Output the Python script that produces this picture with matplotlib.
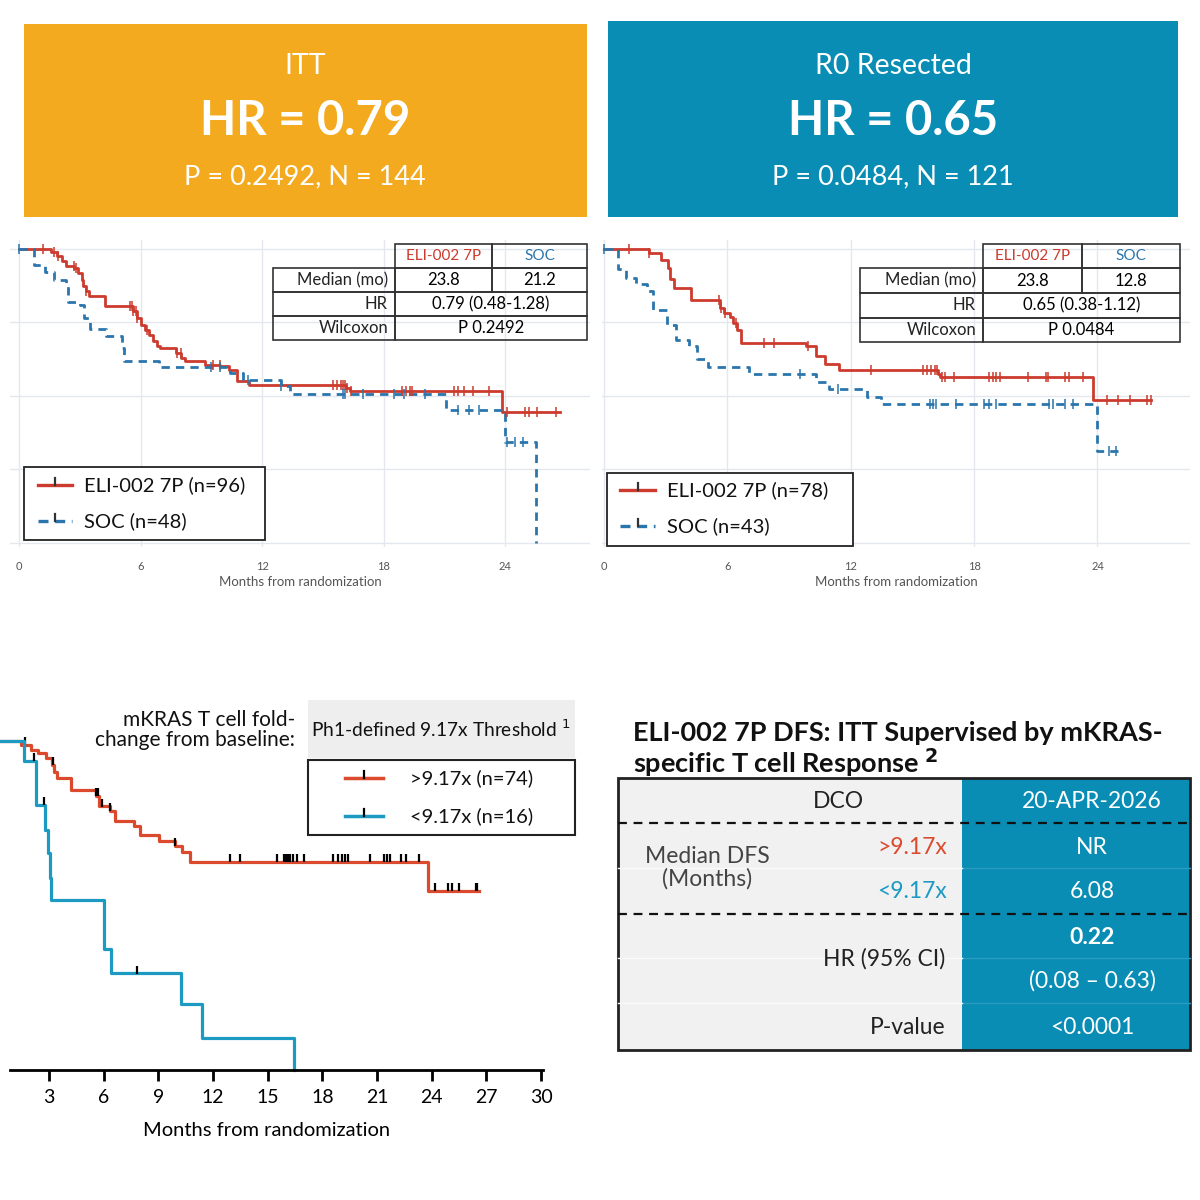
import numpy as np
import matplotlib.pyplot as plt
from matplotlib.patches import Rectangle
from matplotlib.lines import Line2D

plt.rcParams['font.family'] = ['Lato', 'DejaVu Sans']

# =========================
# DATA
# =========================
# ITT, top left
ITT_7P_T = [1.57, 1.86, 2.14, 2.33, 2.71, 2.90, 3.09, 3.18, 3.28, 3.47, 4.23, 5.65, 5.84, 6.03,
            6.22, 6.41, 6.60, 6.79, 6.98, 7.73, 8.02, 8.21, 9.16, 9.91, 10.39, 10.77, 11.34,
            16.17, 16.36, 23.85]
ITT_7P_S = [0.988, 0.974, 0.957, 0.940, 0.934, 0.917, 0.895, 0.872, 0.855, 0.838, 0.804, 0.787,
            0.764, 0.742, 0.725, 0.708, 0.685, 0.668, 0.663, 0.646, 0.629, 0.617, 0.606, 0.600,
            0.589, 0.549, 0.538, 0.527, 0.515, 0.444]
ITT_7P_END = 26.7
ITT_7P_CENS = [1.2, 1.7, 1.9, 2.7, 2.8, 3.3, 5.5, 5.6, 5.65, 5.75, 5.84, 6.3, 7.8, 8.0, 9.6, 9.9,
               15.5, 15.7, 15.9, 16.0, 16.1, 16.2, 16.4, 18.9, 19.1, 19.3, 19.4, 21.5, 21.7,
               22.0, 22.4, 23.2, 24.1, 25.0, 25.2, 25.6, 26.5]

ITT_SOC_T = [0.72, 1.3, 1.7, 2.3, 2.4, 3.0, 3.2, 3.5, 4.3, 5.1, 5.2, 6.9, 10.4, 11.05, 12.95,
             13.4, 21.1, 24.0, 25.55]
ITT_SOC_S = [0.946, 0.92, 0.895, 0.875, 0.82, 0.81, 0.764, 0.727, 0.702, 0.662, 0.617, 0.598,
             0.578, 0.553, 0.532, 0.506, 0.453, 0.342, 0.0]
ITT_SOC_END = 25.55
ITT_SOC_CENS = [0.0, 9.5, 9.9, 11.3, 12.95, 16.0, 16.1, 17.0, 18.5, 19.0, 20.05, 21.7, 22.2,
                22.7, 24.1, 24.5, 24.9]

# R0 resected, top right
R0_7P_T = [2.2, 2.76, 3.09, 3.22, 3.41, 4.25, 5.64, 5.83, 6.11, 6.29, 6.48, 6.67, 9.83, 10.3,
           10.76, 11.41, 16.26, 16.35, 23.8]
R0_7P_S = [0.986, 0.961, 0.936, 0.897, 0.866, 0.827, 0.797, 0.780, 0.769, 0.747, 0.724, 0.680,
           0.669, 0.636, 0.608, 0.586, 0.574, 0.563, 0.486]
R0_7P_END = 26.6
R0_7P_CENS = [1.2, 2.2, 5.6, 5.7, 5.9, 6.4, 7.8, 8.25, 9.9, 13.0, 15.5, 15.7, 15.9, 16.1, 16.2,
              16.45, 16.6, 17.0, 18.7, 18.9, 19.05, 19.25, 20.6, 21.5, 21.6, 22.4, 22.6, 23.3,
              24.45, 25.0, 25.6, 26.4, 26.6]

R0_SOC_T = [0.67, 1.08, 1.55, 2.1, 2.38, 3.04, 3.5, 4.15, 4.53, 5.08, 7.04, 10.3, 10.95, 12.8,
            13.46, 24.0]
R0_SOC_S = [0.93, 0.902, 0.880, 0.858, 0.791, 0.741, 0.691, 0.669, 0.624, 0.599, 0.574, 0.547,
            0.522, 0.497, 0.471, 0.313]
R0_SOC_END = 25.0
R0_SOC_CENS = [0.0, 9.55, 11.4, 15.85, 16.0, 16.15, 17.1, 18.5, 18.7, 19.05, 21.65, 21.85,
               22.4, 22.8, 24.55, 24.9]

# mKRAS T cell response, bottom left
HI_T = [1.47, 2.0, 2.42, 2.84, 3.16, 3.26, 3.43, 4.21, 5.58, 5.75, 6.32, 6.63, 7.68, 8.0, 9.05,
        9.9, 10.32, 10.74, 23.8]
HI_S = [0.987, 0.972, 0.962, 0.946, 0.926, 0.906, 0.886, 0.851, 0.831, 0.800, 0.785, 0.757,
        0.740, 0.713, 0.695, 0.680, 0.662, 0.631, 0.543]
HI_END = 26.6
HI_CENS = [1.7, 3.2, 5.58, 5.7, 5.9, 6.36, 9.9, 12.95, 13.5, 15.5, 15.9, 16.0, 16.1, 16.2, 16.4,
           16.6, 17.0, 18.6, 18.85, 19.05, 19.25, 19.4, 20.6, 21.4, 21.55, 21.7, 22.3, 22.6,
           23.3, 24.2, 24.9, 25.1, 25.5, 26.4, 26.5]

LO_T = [1.63, 2.27, 2.8, 2.95, 3.05, 3.12, 6.04, 6.42, 10.25, 11.37, 16.42]
LO_S = [0.939, 0.805, 0.730, 0.659, 0.583, 0.516, 0.368, 0.293, 0.200, 0.096, 0.0]
LO_END = 16.42
LO_CENS = [2.2, 2.7, 7.8]

TOP_TICKS = [0, 6, 12, 18, 24]
BOT_TICKS = [3, 6, 9, 12, 15, 18, 21, 24, 27, 30]

# colours
ORANGE = '#F4AA1E'
TEAL = '#098DB4'
RED = '#CC3B2E'
BLUE = '#2A76AC'
RED2 = '#DC4A2E'
TEAL2 = '#1C9AC2'

W = H = 1200


def rect(x0, y0, x1, y1):
    return [x0 / W, 1 - y1 / H, (x1 - x0) / W, (y1 - y0) / H]


def km(t, s, end):
    tt = np.r_[0.0, t, end]
    ss = np.r_[1.0, s, s[-1]]
    return tt, ss


def surv_at(tt, ss, tc):
    idx = np.searchsorted(tt, tc, side='right') - 1
    return ss[np.clip(idx, 0, len(ss) - 1)]


fig = plt.figure(figsize=(12, 12), dpi=100)
fig.patch.set_facecolor('white')


# =========================
# TOP KM PANELS
# =========================
def top_km(pos, xlim, c7p, csoc):
    ax = fig.add_axes(pos)
    for sp in ax.spines.values():
        sp.set_visible(False)
    ax.set_xlim(*xlim)
    ax.set_ylim(-0.015, 1.03)
    ax.set_xticks(TOP_TICKS)
    ax.set_yticks([0, 0.25, 0.5, 0.75, 1.0])
    ax.set_yticklabels([])
    ax.grid(True, color='#e4e7ee', lw=1.0)
    ax.tick_params(length=0, labelsize=8, labelcolor='#555555', pad=10)
    ax.set_xlabel('Months from randomization', fontsize=9.5, color='#555555', labelpad=3)
    ax.set_axisbelow(True)
    for (t, s, end, cens), col, ls in ((c7p, RED, '-'), (csoc, BLUE, (0, (3, 2.2)))):
        tt, ss = km(t, s, end)
        ax.step(tt, ss, where='post', color=col, lw=2, ls=ls, zorder=3)
        ax.plot(cens, surv_at(tt, ss, np.array(cens)), ls='none', marker='|', ms=7,
                mew=1.1, color=col, zorder=4)
    return ax


top_km(rect(10, 240, 590, 547), (-0.45, 28.2),
       (ITT_7P_T, ITT_7P_S, ITT_7P_END, ITT_7P_CENS),
       (ITT_SOC_T, ITT_SOC_S, ITT_SOC_END, ITT_SOC_CENS))
top_km(rect(602, 240, 1190, 547), (-0.1, 28.5),
       (R0_7P_T, R0_7P_S, R0_7P_END, R0_7P_CENS),
       (R0_SOC_T, R0_SOC_S, R0_SOC_END, R0_SOC_CENS))

# =========================
# BOTTOM LEFT KM
# =========================
ax3 = fig.add_axes(rect(10, 734, 543, 1070))
ax3.set_xlim(0.86, 30.1)
ax3.set_ylim(0, 1.02)
for k in ('top', 'right', 'left'):
    ax3.spines[k].set_visible(False)
ax3.spines['bottom'].set_linewidth(2)
ax3.set_yticks([])
ax3.set_xticks(BOT_TICKS)
ax3.tick_params(axis='x', length=8, width=2, labelsize=14, pad=6)
ax3.set_xlabel('Months from randomization', fontsize=14.5)
ax3.xaxis.set_label_coords(0.482, -0.155)
for t, s, end, cens, col in ((HI_T, HI_S, HI_END, HI_CENS, RED2),
                             (LO_T, LO_S, LO_END, LO_CENS, TEAL2)):
    tt, ss = km(t, s, end)
    ax3.step(tt, ss, where='post', color=col, lw=2.3, clip_on=False)
    ax3.plot(cens, surv_at(tt, ss, np.array(cens)) + 0.012, ls='none', marker='|', ms=6,
             mew=1.6, color='black', clip_on=False)

# =========================
# OVERLAY: banners, tables, legends
# =========================
ov = fig.add_axes([0, 0, 1, 1])
ov.set_xlim(0, W)
ov.set_ylim(H, 0)
ov.axis('off')
ov.patch.set_alpha(0)


def box(x0, y0, x1, y1, fc='none', ec='none', lw=1.0, ls='-'):
    ov.add_patch(Rectangle((x0, y0), x1 - x0, y1 - y0, facecolor=fc, edgecolor=ec,
                           lw=lw, ls=ls))


# banners
box(24, 24, 587, 217, fc=ORANGE)
box(608, 21, 1178, 217, fc=TEAL)
for cx, top, hr, pn in ((305, 'ITT', 'HR = 0.79', 'P = 0.2492, N = 144'),
                        (893, 'R0 Resected', 'HR = 0.65', 'P = 0.0484, N = 121')):
    ov.text(cx, 66, top, color='white', fontsize=20.5, ha='center', va='center')
    ov.text(cx, 121, hr, color='white', fontsize=34, fontweight='bold', ha='center',
            va='center')
    ov.text(cx, 177, pn, color='white', fontsize=19.5, ha='center', va='center')


# small stats tables on the KM plots
def stat_table(xl, xa, xb, xr, rows, med7p, medsoc, hr, pval):
    y0, y1, y2, y3, y4 = rows
    fs = 12
    box(xa, y0, xb, y1, ec='#333333', lw=1.2)
    box(xb, y0, xr, y1, ec='#333333', lw=1.2)
    ov.text((xa + xb) / 2, (y0 + y1) / 2, 'ELI-002 7P', color=RED, fontsize=11,
            ha='center', va='center')
    ov.text((xb + xr) / 2, (y0 + y1) / 2, 'SOC', color=BLUE, fontsize=11,
            ha='center', va='center')
    for ya, yb, lab in ((y1, y2, 'Median (mo)'), (y2, y3, 'HR'), (y3, y4, 'Wilcoxon')):
        box(xl, ya, xa, yb, ec='#333333', lw=1.2)
        ov.text(xa - 7, (ya + yb) / 2, lab, fontsize=fs, ha='right', va='center',
                color='#222222')
    box(xa, y1, xb, y2, ec='#333333', lw=1.2)
    box(xb, y1, xr, y2, ec='#333333', lw=1.2)
    box(xa, y2, xr, y3, ec='#333333', lw=1.2)
    box(xa, y3, xr, y4, ec='#333333', lw=1.2)
    ov.text((xa + xb) / 2, (y1 + y2) / 2, med7p, fontsize=fs, ha='center', va='center')
    ov.text((xb + xr) / 2, (y1 + y2) / 2, medsoc, fontsize=fs, ha='center', va='center')
    ov.text((xa + xr) / 2, (y2 + y3) / 2, hr, fontsize=fs, ha='center', va='center')
    ov.text((xa + xr) / 2, (y3 + y4) / 2, pval, fontsize=fs, ha='center', va='center')


stat_table(273, 395, 492, 587, (244, 268, 292, 316, 340), '23.8', '21.2',
           '0.79 (0.48-1.28)', 'P 0.2492')
stat_table(860, 983, 1082, 1180, (244, 268, 293, 318, 342), '23.8', '12.8',
           '0.65 (0.38-1.12)', 'P 0.0484')


# top legends
def top_legend(x0, y0, x1, y1, lx0, lx1, ya, yb, lab_a, lab_b):
    box(x0, y0, x1, y1, ec='#222222', lw=1.3, fc='white')
    mid = (lx0 + lx1) / 2
    ov.add_line(Line2D([lx0, lx1], [ya, ya], color=RED, lw=2.4))
    ov.add_line(Line2D([lx0, lx1], [yb, yb], color=BLUE, lw=2.4, ls=(0, (3, 2))))
    for yy in (ya, yb):
        ov.add_line(Line2D([mid, mid], [yy - 7, yy], color='#333333', lw=1.6))
    ov.text(lx1 + 12, ya, lab_a, fontsize=14.5, va='center', color='#111111')
    ov.text(lx1 + 12, yb, lab_b, fontsize=14.5, va='center', color='#111111')


top_legend(24, 467, 265, 540, 38, 72, 485, 521, 'ELI-002 7P (n=96)', 'SOC (n=48)')
top_legend(607, 473, 853, 546, 620, 655, 490, 526, 'ELI-002 7P (n=78)', 'SOC (n=43)')

# bottom-left legend
ov.text(295, 730, 'mKRAS T cell fold-\nchange from baseline:', fontsize=15, ha='right',
        va='center', multialignment='right', linespacing=1.05, color='#111111')
box(308, 700, 575, 758, fc='#eeeeee')
ov.text(441, 729, 'Ph1-defined 9.17x Threshold $^{1}$', fontsize=13.8, ha='center',
        va='center', color='#111111')
box(308, 760, 575, 835, ec='#222222', lw=1.5)
for yy, col, lab in ((778, RED2, '>9.17x (n=74)'), (816, TEAL2, '<9.17x (n=16)')):
    ov.add_line(Line2D([345, 383], [yy, yy], color=col, lw=2.5))
    ov.add_line(Line2D([364, 364], [yy - 7, yy], color='black', lw=1.6))
    ov.text(410, yy, lab, fontsize=14.5, va='center', color='#111111')

# bottom-right summary table
ov.text(633, 733, 'ELI-002 7P DFS: ITT Supervised by mKRAS-', fontsize=19.5,
        fontweight='bold', ha='left', va='center', color='#111111')
ov.text(633, 763, 'specific T cell Response $^{\\mathbf{2}}$', fontsize=19.5,
        fontweight='bold', ha='left', va='center', color='#111111')
box(618, 778, 962, 1050, fc='#f1f1f1')
box(962, 778, 1190, 1050, fc=TEAL)
for yy in (868, 958, 1003):
    ov.add_line(Line2D([962, 1190], [yy, yy], color='#2a9cc2', lw=1.0))
    ov.add_line(Line2D([618, 962], [yy, yy], color='#fafafa', lw=1.0))
for yy in (823, 914):
    ov.add_line(Line2D([618, 1190], [yy, yy], color='#111111', lw=1.6, ls=(0, (4, 3))))
box(618, 778, 1190, 1050, ec='#222222', lw=2)

FS = 16.5
ov.text(838, 801, 'DCO', fontsize=FS, ha='center', va='center', color='#222222')
ov.text(1092, 801, '20-APR-2026', fontsize=FS, ha='center', va='center', color='white')
ov.text(707, 868, 'Median DFS\n(Months)', fontsize=FS, ha='center', va='center',
        color='#444444', linespacing=1.05)
ov.text(947, 847, '>9.17x', fontsize=FS, ha='right', va='center', color=RED2)
ov.text(947, 891, '<9.17x', fontsize=FS, ha='right', va='center', color=TEAL2)
ov.text(1092, 847, 'NR', fontsize=FS, ha='center', va='center', color='white')
ov.text(1092, 891, '6.08', fontsize=FS, ha='center', va='center', color='white')
ov.text(945, 959, 'HR (95% CI)', fontsize=FS, ha='right', va='center', color='#222222')
ov.text(1092, 937, '0.22', fontsize=FS, fontweight='bold', ha='center', va='center',
        color='white')
ov.text(1092, 981, '(0.08 \u2013 0.63)', fontsize=FS, ha='center', va='center', color='white')
ov.text(945, 1027, 'P-value', fontsize=FS, ha='right', va='center', color='#222222')
ov.text(1092, 1027, '<0.0001', fontsize=FS, ha='center', va='center', color='white')

fig.savefig('out.png', dpi=100)
